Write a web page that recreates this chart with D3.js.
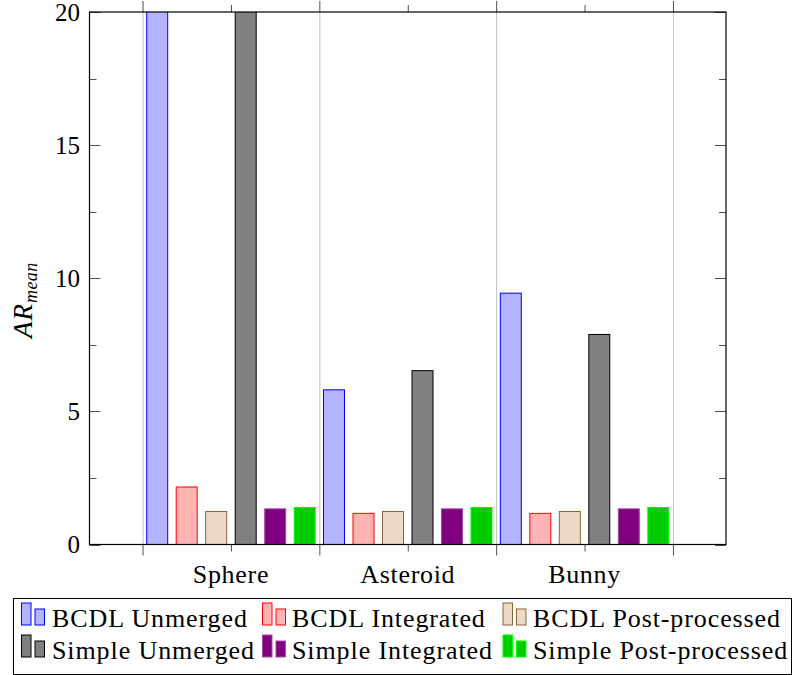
<!DOCTYPE html>
<html>
<head>
<meta charset="utf-8">
<script src="https://cdn.jsdelivr.net/npm/d3@7"></script>
<style>
body{margin:0;background:#fff;}
</style>
</head>
<body>
<svg id="chart" width="794" height="675"></svg>
<script>
// data
var categories = ["Sphere","Asteroid","Bunny"];
var seriesNames = ["BCDL Unmerged","BCDL Integrated","BCDL Post-processed","Simple Unmerged","Simple Integrated","Simple Post-processed"];
// one array per series, in category order (Sphere unmerged bars go beyond the axis top)
var bcdlUnmerged   = [24.0, 5.81, 9.44];
var bcdlIntegrated = [2.16, 1.17, 1.17];
var bcdlPost       = [1.24, 1.24, 1.24];
var simpleUnmerged = [22.0, 6.53, 7.89];
var simpleIntegr   = [1.34, 1.34, 1.34];
var simplePost     = [1.39, 1.39, 1.39];
var yTicks = [0,5,10,15,20];

var seriesValues = [bcdlUnmerged,bcdlIntegrated,bcdlPost,simpleUnmerged,simpleIntegr,simplePost];
// fill / stroke per series (pgfplots-like colours)
var FILLS   = ["#b3b3ff","#ffb3b3","#ecd9c6","#808080","#800080","#00cc00"];
var STROKES = ["#0000ff","#ff0000","#8c6239","#000000","#a050a0","#00ff00"];
var FONT = "'Liberation Serif', 'DejaVu Serif', serif";

var svg = d3.select("#chart");
var LEFT = 89.5, RIGHT = 726, TOP = 12, BOTTOM = 544.5;

var x = d3.scaleLinear().domain([0.2,3.8]).range([LEFT,RIGHT]);
var y = d3.scaleLinear().domain([0,20]).range([BOTTOM,TOP]);
var xOff = d3.scalePoint().domain(seriesNames).range([-73.75,73.75]);
var BAR_W = 21;

svg.append("clipPath").attr("id","plotclip")
	.append("rect").attr("x",LEFT).attr("y",TOP).attr("width",RIGHT-LEFT).attr("height",BOTTOM-TOP);

// ---------------- grid (between categories) ----------------
var gridPos = [0.5,1.5,2.5,3.5];
var gGrid = svg.append("g").attr("id","grid");
gGrid.selectAll("line").data(gridPos).enter().append("line")
	.attr("x1",function(d){return x(d)+0.5;}).attr("x2",function(d){return x(d)+0.5;})
	.attr("y1",TOP).attr("y2",BOTTOM)
	.style("stroke","#bfbfbf").style("stroke-width",1);

// ---------------- bars ----------------
var gBars = svg.append("g").attr("id","bars").attr("clip-path","url(#plotclip)");
seriesNames.forEach(function(s,i){
	gBars.append("g").attr("class","series")
		.selectAll("rect").data(seriesValues[i]).enter().append("rect")
		.attr("x",function(d,j){return x(j+1)+xOff(s)-BAR_W/2;})
		.attr("y",function(d){return y(d);})
		.attr("width",BAR_W)
		.attr("height",function(d){return y(0)-y(d);})
		.style("fill",FILLS[i])
		.style("stroke",STROKES[i])
		.style("stroke-width",1);
});

// ---------------- axes ----------------
var gAxes = svg.append("g").attr("id","axes");

function _tick(g,x1,y1,x2,y2){
	g.append("line").attr("x1",x1).attr("y1",y1).attr("x2",x2).attr("y2",y2)
		.style("stroke","#505050").style("stroke-width",1);
}

// y ticks left + right, major and minor
yTicks.forEach(function(t){
	var yy = Math.round(y(t))+0.5;
	_tick(gAxes,LEFT,yy,LEFT+11,yy);
	_tick(gAxes,RIGHT-11,yy,RIGHT,yy);
	gAxes.append("text").text(t)
		.attr("x",80).attr("y",y(t)+8.7)
		.style("font-family",FONT)
		.style("text-anchor","end").style("font-size","25px");
});
for (var k=0;k<yTicks.length-1;k++){
	var ym = Math.round(y((yTicks[k]+yTicks[k+1])/2))+0.5;
	_tick(gAxes,LEFT,ym,LEFT+7,ym);
	_tick(gAxes,RIGHT-7,ym,RIGHT,ym);
}

// x ticks: long at grid positions, short at categories, pointing outward
gridPos.forEach(function(p){
	var xx = x(p)+0.5;
	_tick(gAxes,xx,TOP-11,xx,TOP);
	_tick(gAxes,xx,BOTTOM,xx,BOTTOM+11);
});
categories.forEach(function(c,j){
	var xx = x(j+1)+0.5;
	_tick(gAxes,xx,TOP-7,xx,TOP);
	_tick(gAxes,xx,BOTTOM,xx,BOTTOM+7);
	gAxes.append("text").text(c)
		.attr("x",x(j+1)).attr("y",583)
		.style("font-family",FONT)
		.style("text-anchor","middle").style("font-size","26px").style("letter-spacing","0.7px");
});

// frame
gAxes.append("rect").attr("x",LEFT).attr("y",TOP).attr("width",RIGHT-LEFT).attr("height",BOTTOM-TOP)
	.style("fill","none").style("stroke","#000").style("stroke-width",1.2);

// y label
var yl = gAxes.append("text")
	.attr("transform","translate(32,338) rotate(-90)")
	.style("font-family",FONT)
	.style("text-anchor","start").style("font-size","27px").style("font-style","italic");
yl.append("tspan").text("AR").style("letter-spacing","1px");
yl.append("tspan").text("mean").attr("dy",5).style("font-size","18px").style("letter-spacing","0.4px");

// ---------------- legend ----------------
var gLegend = svg.append("g").attr("id","legend");
gLegend.append("rect").attr("x",13.5).attr("y",598.5).attr("width",778).attr("height",76)
	.style("fill","#fff").style("stroke","#000").style("stroke-width",1);

var legendIconX = [21.5,262.5,503];
var legendTextX = [52,292,533];
var legendBase  = [627,659];

seriesNames.forEach(function(s,i){
	var col = i%3, row = Math.floor(i/3);
	var bx = legendIconX[col], base = legendBase[row]-2;
	gLegend.append("rect").attr("x",bx).attr("y",base-22).attr("width",9.5).attr("height",22)
		.style("fill",FILLS[i]).style("stroke",STROKES[i]).style("stroke-width",1);
	gLegend.append("rect").attr("x",bx+13.5).attr("y",base-16).attr("width",9.5).attr("height",16)
		.style("fill",FILLS[i]).style("stroke",STROKES[i]).style("stroke-width",1);
	gLegend.append("text").text(s)
		.attr("x",legendTextX[col]).attr("y",legendBase[row])
		.style("font-family",FONT)
		.style("font-size","26px").style("letter-spacing","0.9px");
});
</script>
</body>
</html>
